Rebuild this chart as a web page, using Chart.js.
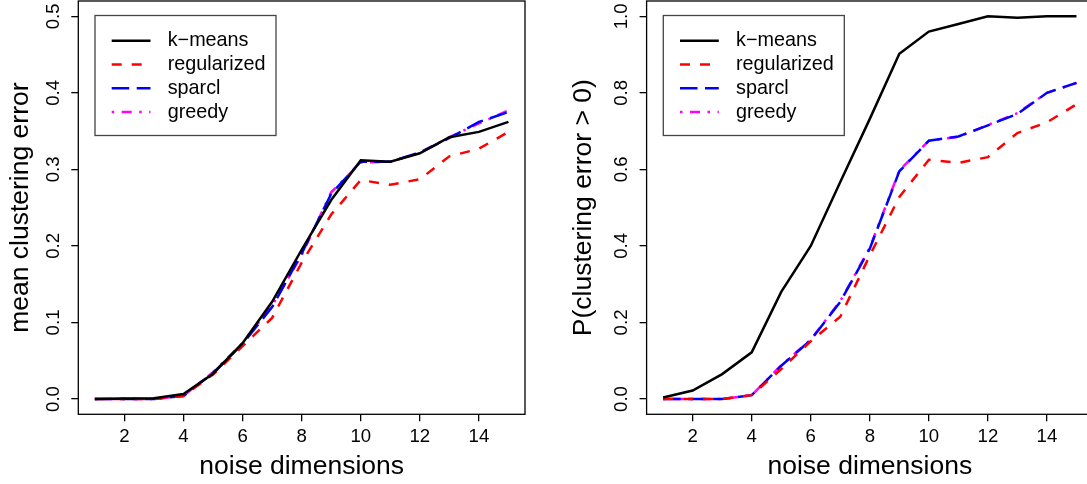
<!DOCTYPE html>
<html>
<head>
<meta charset="utf-8">
<script src="https://cdn.jsdelivr.net/npm/chart.js@4/dist/chart.umd.min.js"></script>
<style>
    html, body { margin: 0; padding: 0; background: #fff; }
    body { width: 1087px; height: 484px; overflow: hidden; position: relative; }
    .panel { position: absolute; top: 0; height: 484px; }
    #leftPanel { left: 0; width: 545px; }
    #rightPanel { left: 545px; width: 560px; }
</style>
</head>
<body>
<div class="panel" id="leftPanel"><canvas id="meanError" width="545" height="484"></canvas></div>
<div class="panel" id="rightPanel"><canvas id="probError" width="560" height="484"></canvas></div>
<script>
// x axis: number of noise dimensions
const noiseDims = [1, 2, 3, 4, 5, 6, 7, 8, 9, 10, 11, 12, 13, 14, 15];
const xTickValues = [2, 4, 6, 8, 10, 12, 14];
const meanTickValues = [0, 0.1, 0.2, 0.3, 0.4, 0.5];
const probTickValues = [0, 0.2, 0.4, 0.6, 0.8, 1.0];
const methodNames = ["k\u2212means", "regularized", "sparcl", "greedy"];

// left panel: mean clustering error
const meanKmeans = [0, 0.0005, 0.001, 0.0065, 0.033, 0.073, 0.127, 0.195, 0.26, 0.312, 0.31, 0.321, 0.342, 0.349, 0.362];
const meanRegularized = [0, 0, 0, 0.004, 0.032, 0.069, 0.106, 0.178, 0.241, 0.286, 0.28, 0.287, 0.317, 0.327, 0.349];
const meanSparcl = [0, 0, 0, 0.004, 0.034, 0.072, 0.12, 0.19, 0.268, 0.31, 0.31, 0.322, 0.341, 0.362, 0.375];
const meanGreedy = [0, 0, 0, 0.004, 0.035, 0.073, 0.122, 0.188, 0.27, 0.309, 0.31, 0.322, 0.342, 0.36, 0.377];

// right panel: P(clustering error > 0)
const probKmeans = [0.004, 0.022, 0.065, 0.122, 0.28, 0.40, 0.567, 0.732, 0.902, 0.96, 0.98, 1.0, 0.996, 1.0, 1.0];
const probRegularized = [0, 0, 0, 0.01, 0.078, 0.151, 0.215, 0.375, 0.528, 0.625, 0.617, 0.632, 0.695, 0.723, 0.77];
const probSparcl = [0, 0, 0, 0.01, 0.087, 0.154, 0.254, 0.393, 0.595, 0.675, 0.686, 0.715, 0.745, 0.80, 0.826];
const probGreedy = [0, 0, 0, 0.01, 0.088, 0.155, 0.256, 0.395, 0.597, 0.675, 0.685, 0.716, 0.747, 0.80, 0.826];

const FONT = "'Liberation Sans', Arial, Helvetica, sans-serif";

// line styles like R's lty 1, 2, 5, 4
const lineStyles = [
    { color: "#000000", dash: [] },
    { color: "#ff0000", dash: [10, 10] },
    { color: "#0000ff", dash: [17.5, 7.5] },
    { color: "#ff00ff", dash: [2.5, 7.5, 10, 7.5] },
];

// box round the plot and the legend in the top-left corner
const frameAndLegend = {
    id: "frameAndLegend",
    afterDatasetsDraw(chart) {
        const { ctx, chartArea } = chart;
        ctx.save();
        ctx.setLineDash([]);
        ctx.strokeStyle = "#000";
        ctx.lineWidth = 1.3;
        ctx.strokeRect(chartArea.left, chartArea.top, chartArea.right - chartArea.left, chartArea.bottom - chartArea.top);

        const boxX = chartArea.left + 16.7;
        const boxY = chartArea.top + 14.5;
        ctx.strokeStyle = "#444";
        ctx.strokeRect(boxX, boxY, 181, 120);

        ctx.font = "19.8px " + FONT;
        ctx.textBaseline = "middle";
        ctx.textAlign = "left";
        chart.data.datasets.forEach((ds, i) => {
            const y = boxY + 25.2 + i * 23.8;
            ctx.strokeStyle = ds.borderColor;
            ctx.lineWidth = ds.borderWidth;
            ctx.setLineDash(ds.borderDash);
            ctx.beginPath();
            ctx.moveTo(boxX + 16.7, y);
            ctx.lineTo(boxX + 55.5, y);
            ctx.stroke();
            ctx.fillStyle = "#000";
            ctx.fillText(ds.label, boxX + 72.7, y);
        });
        ctx.restore();
    },
};

function makeDatasets(seriesList) {
    return seriesList.map((values, i) => ({
        label: methodNames[i],
        data: noiseDims.map((d, j) => ({ x: d, y: values[j] })),
        borderColor: lineStyles[i].color,
        borderDash: lineStyles[i].dash,
        borderWidth: 2.5,
        pointRadius: 0,
        tension: 0,
        fill: false,
    }));
}

// no extra room for the end labels, the plot box is fixed
function noEndPadding(scale) {
    scale.paddingTop = 0;
    scale.paddingBottom = 0;
    scale.paddingLeft = 0;
    scale.paddingRight = 0;
}

function createPanel(canvasId, seriesList, yTitle, yTicks, yMin, yMax, yAxisWidth, yTitlePad, rightPad) {
    const ctx = document.getElementById(canvasId).getContext("2d");
    new Chart(ctx, {
        type: "line",
        data: { datasets: makeDatasets(seriesList) },
        options: {
            responsive: false,
            animation: false,
            layout: { padding: { top: 1, right: rightPad, bottom: 0, left: 0 } },
            plugins: { legend: { display: false }, tooltip: { enabled: false } },
            scales: {
                x: {
                    type: "linear",
                    min: 0.44,
                    max: 15.56,
                    afterBuildTicks: (scale) => {
                        scale.ticks = xTickValues.map((v) => ({ value: v }));
                    },
                    afterFit: (scale) => {
                        scale.height = 69.7;
                        noEndPadding(scale);
                    },
                    grid: { drawOnChartArea: false, drawTicks: true, tickLength: 7, color: "#000", lineWidth: 1.3 },
                    border: { display: false },
                    ticks: { color: "#000", padding: 4.4, font: { family: FONT, size: 18.6 }, maxRotation: 0 },
                    title: {
                        display: true,
                        text: "noise dimensions",
                        color: "#000",
                        font: { family: FONT, size: 26.5 },
                        padding: { top: 0, bottom: 1.3 },
                    },
                },
                y: {
                    type: "linear",
                    min: yMin,
                    max: yMax,
                    afterBuildTicks: (scale) => {
                        scale.ticks = yTicks.map((v) => ({ value: v }));
                    },
                    afterFit: (scale) => {
                        scale.width = yAxisWidth;
                        noEndPadding(scale);
                    },
                    grid: { drawOnChartArea: false, drawTicks: true, tickLength: 7, color: "#000", lineWidth: 1.3 },
                    border: { display: false },
                    ticks: {
                        color: "#000",
                        padding: 5,
                        minRotation: 90,
                        maxRotation: 90,
                        crossAlign: "center",
                        font: { family: FONT, size: 18.6 },
                        callback: (v) => v.toFixed(1),
                    },
                    title: {
                        display: true,
                        text: yTitle,
                        color: "#000",
                        font: { family: FONT, size: 26.5 },
                        padding: { top: yTitlePad, bottom: 0 },
                    },
                },
            },
        },
        plugins: [frameAndLegend],
    });
}

createPanel("meanError", [meanKmeans, meanRegularized, meanSparcl, meanGreedy],
    "mean clustering error", meanTickValues, -0.02, 0.52, 78.3, 4.9, 20);
createPanel("probError", [probKmeans, probRegularized, probSparcl, probGreedy],
    "P(clustering error > 0)", probTickValues, -0.04, 1.04, 101.6, 23, 12);
</script>
</body>
</html>
